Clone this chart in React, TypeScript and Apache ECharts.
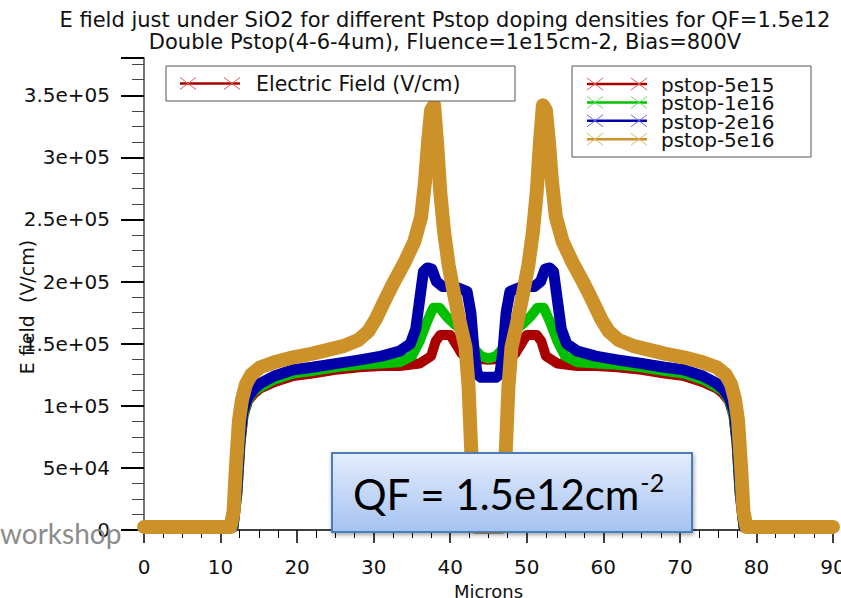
import React, { useEffect, useRef } from 'react';
import * as echarts from 'echarts';

const titleLine1 = 'E field just under SiO2 for different Pstop doping densities for QF=1.5e12';
const titleLine2 = 'Double Pstop(4-6-4um), Fluence=1e15cm-2, Bias=800V';
const xAxisTitle = 'Microns';
const yAxisTitle = 'E field  (V/cm)';
const boxLegendLabel = 'Electric Field (V/cm)';
const qfLabel = 'QF = 1.5e12cm';
const qfSup = '-2';
const watermark = 'workshop';

const seriesNames = ['pstop-5e15', 'pstop-1e16', 'pstop-2e16', 'pstop-5e16'];

// [micron, E field V/cm]
const pstop5e15: number[][] = [
  [0, 2500], [11.7, 2500], [12.2, 30000], [12.6, 70000], [13.0, 92000], [13.6, 104000], [14.4, 110000],
  [15.2, 114000], [17, 119000], [19.5, 124000], [22, 126000], [25, 129000], [28.2, 131000], [31, 132000],
  [33.4, 132000], [36, 134000], [37.5, 140000], [38.1, 152000], [38.7, 157000], [40.0, 157000],
  [40.7, 150000], [41.5, 142000], [43, 138000], [45, 137000],
  [47, 138000], [48.5, 142000], [49.3, 150000], [50, 157000], [51.3, 157000], [51.9, 152000],
  [52.5, 140000], [54, 134000], [56.6, 132000], [59, 132000], [61.8, 131000], [65, 129000], [68, 126000],
  [70.5, 124000], [73, 119000], [74.8, 114000], [75.6, 110000], [76.4, 104000], [77, 92000], [77.4, 70000],
  [77.8, 30000], [78.3, 2500], [90, 2500],
];

const pstop1e16: number[][] = [
  [0, 2500], [11.7, 2500], [12.2, 30000], [12.6, 70000], [13.0, 93000], [13.6, 105000], [14.4, 112000],
  [15.2, 115000], [17, 121000], [19.5, 126000], [22, 128000], [25, 131000], [28.2, 133000], [31, 134000],
  [33.4, 135000], [35, 140000], [36, 152000], [37, 168000], [37.8, 179000], [38.6, 179000], [39.5, 172000],
  [40.5, 166000], [41.5, 161000], [42.5, 153000], [43.3, 145000], [44, 140000], [45, 138000],
  [46, 140000], [46.7, 145000], [47.5, 153000], [48.5, 161000], [49.5, 166000], [50.5, 172000],
  [51.4, 179000], [52.2, 179000], [53, 168000], [54, 152000], [55, 140000], [56.6, 135000], [59, 134000],
  [61.8, 133000], [65, 131000], [68, 128000], [70.5, 126000], [73, 121000], [74.8, 115000], [75.6, 112000],
  [76.4, 105000], [77, 93000], [77.4, 70000], [77.8, 30000], [78.3, 2500], [90, 2500],
];

const pstop2e16: number[][] = [
  [0, 2500], [11.6, 2500], [12.1, 30000], [12.5, 70000], [12.9, 95000], [13.5, 106000], [14.3, 113000],
  [15.2, 118000], [17, 124000], [19.5, 129000], [22, 131000], [25, 134000], [28.2, 137000], [31, 140000],
  [33.4, 144000], [34.8, 150000], [35.5, 162000], [36.0, 185000], [36.5, 208000], [37.0, 211000],
  [37.6, 210000], [38.2, 200000], [39.0, 196000], [40.0, 196000], [41.0, 195000], [42.2, 192000],
  [42.7, 175000], [43.1, 145000], [43.5, 126000], [44.0, 123000], [46.0, 123000],
  [46.5, 126000], [46.9, 145000], [47.3, 175000], [47.8, 192000], [49.0, 195000], [50.0, 196000],
  [51.0, 196000], [51.8, 200000], [52.4, 210000], [53.0, 211000], [53.5, 208000], [54.0, 185000],
  [54.5, 162000], [55.2, 150000], [56.6, 144000], [59, 140000], [61.8, 137000], [65, 134000], [68, 131000],
  [70.5, 129000], [73, 124000], [74.8, 118000], [75.7, 113000], [76.5, 106000], [77.1, 95000],
  [77.5, 70000], [77.9, 30000], [78.4, 2500], [90, 2500],
];

const pstop5e16: number[][] = [
  [0, 2500], [11.3, 2500], [11.7, 15000], [12.0, 50000], [12.4, 88000], [12.8, 105000], [13.3, 117000],
  [14.0, 125000], [15.2, 131000], [17, 135000], [19.5, 139000], [22, 142000], [24, 145000], [26, 148000],
  [28, 153000], [29.3, 160000], [30.3, 170000], [31.3, 183000], [32.5, 198000], [34, 215000],
  [35.3, 232000], [36.2, 252000], [36.7, 280000], [37.1, 312000], [37.5, 338000], [37.9, 342000],
  [38.3, 310000], [38.7, 272000], [39.2, 240000], [39.8, 213000], [40.5, 190000], [41.3, 166000],
  [42.0, 147000], [42.4, 115000], [42.7, 70000], [43.0, 30000], [43.3, 2500],
  [46.7, 2500], [47.0, 30000], [47.3, 70000], [47.6, 115000], [48.0, 147000], [48.7, 166000],
  [49.5, 190000], [50.2, 213000], [50.8, 240000], [51.3, 272000], [51.7, 310000], [52.1, 342000],
  [52.5, 338000], [52.9, 312000], [53.3, 280000], [53.8, 252000], [54.7, 232000], [56, 215000],
  [57.5, 198000], [58.7, 183000], [59.7, 170000], [60.7, 160000], [62, 153000], [64, 148000],
  [66, 145000], [68, 142000], [70.5, 139000], [73, 135000], [74.8, 131000], [76, 125000], [76.7, 117000],
  [77.2, 105000], [77.6, 88000], [78, 50000], [78.3, 15000], [78.7, 2500], [90, 2500],
];

const seriesData = [pstop5e15, pstop1e16, pstop2e16, pstop5e16];

const X_MIN = 0;
const X_MAX = 90;
const X_STEP = 10;
const Y_MIN = 0;
const Y_MAX = 380000;
const Y_STEP = 50000;

const lineColors = ['#aa0000', '#00c000', '#0000aa', '#cc9229'];
const crossColors = ['#dd5a5a', '#66e066', '#6a6af0', '#e2b56a'];
const lineWidths = [10, 10, 11, 14];

const FONT = "'DejaVu Sans', Verdana, sans-serif";

function fmtY(v: number): string {
  if (v === 0) return '0';
  if (v % Y_STEP !== 0) return '';
  const e = Math.floor(Math.log10(v) + 1e-9);
  const m = v / Math.pow(10, e);
  return `${+m.toFixed(2)}e+${String(e).padStart(2, '0')}`;
}

function legendIcon(x0: number, y: number, lineColor: string, crossColor: string): any[] {
  const w = 60;
  const cw = 16;
  const ch = 6;
  const els: any[] = [
    { type: 'line', shape: { x1: x0, y1: y, x2: x0 + w, y2: y }, style: { stroke: lineColor, lineWidth: 2.5 }, z: 101 },
  ];
  [x0, x0 + w - cw].forEach((cx) => {
    els.push({ type: 'line', shape: { x1: cx, y1: y - ch, x2: cx + cw, y2: y + ch }, style: { stroke: crossColor, lineWidth: 1 }, z: 102 });
    els.push({ type: 'line', shape: { x1: cx, y1: y + ch, x2: cx + cw, y2: y - ch }, style: { stroke: crossColor, lineWidth: 1 }, z: 102 });
  });
  return els;
}

export default function App() {
  const ref = useRef<HTMLDivElement>(null);

  useEffect(() => {
    document.body.style.margin = '0';
    if (!ref.current) return;
    const chart = echarts.init(ref.current, undefined, { renderer: 'svg' });

    const graphics: any[] = [];
    // legend box 1
    graphics.push({ type: 'rect', shape: { x: 166, y: 66, width: 349, height: 35 }, style: { fill: '#fff', stroke: '#555', lineWidth: 1 }, z: 100 });
    graphics.push(...legendIcon(180, 83.5, lineColors[0], crossColors[0]));
    graphics.push({ type: 'text', x: 256, y: 84, style: { text: boxLegendLabel, font: `20.5px ${FONT}`, fill: '#111', verticalAlign: 'middle' }, z: 103 });
    // legend box 2
    graphics.push({ type: 'rect', shape: { x: 572, y: 66, width: 239, height: 91 }, style: { fill: '#fff', stroke: '#555', lineWidth: 1 }, z: 100 });
    seriesNames.forEach((name, i) => {
      const yy = 84 + i * 18.4;
      graphics.push(...legendIcon(587, yy, lineColors[i], crossColors[i]));
      graphics.push({ type: 'text', x: 661, y: yy + 1, style: { text: name, font: `20px ${FONT}`, lineHeight: 18, fill: '#111', verticalAlign: 'middle' }, z: 103 });
    });
    // QF box
    graphics.push({
      type: 'rect',
      shape: { x: 332, y: 453, width: 360, height: 79 },
      style: {
        fill: { type: 'linear', x: 0, y: 0, x2: 0, y2: 1, colorStops: [{ offset: 0, color: '#e4edfc' }, { offset: 1, color: '#a5c2f2' }] },
        stroke: '#4a7ebb', lineWidth: 2, shadowBlur: 4, shadowColor: 'rgba(0,0,0,0.35)', shadowOffsetX: 1, shadowOffsetY: 2,
      },
      z: 110,
    });
    graphics.push({
      type: 'text', x: 353, y: 494,
      style: {
        text: `{a|${qfLabel}}{b|${qfSup}}`,
        verticalAlign: 'middle',
        rich: {
          a: { fontFamily: 'Lato, sans-serif', fontSize: 42, fill: '#000', lineHeight: 50 },
          b: { fontFamily: 'Lato, sans-serif', fontSize: 25, fill: '#000', verticalAlign: 'top', lineHeight: 34 },
        },
      },
      z: 111,
    });
    // watermark
    graphics.push({ type: 'text', x: 0, y: 533, style: { text: watermark, font: `28px Lato, sans-serif`, fill: '#8c8c8c', verticalAlign: 'middle' }, z: 120 });
    // y axis title
    graphics.push({ type: 'text', x: 27, y: 307, rotation: Math.PI / 2, style: { text: yAxisTitle, font: `19px ${FONT}`, fill: '#111', align: 'center', verticalAlign: 'middle' }, z: 50 });

    chart.setOption({
      animation: false,
      backgroundColor: '#fff',
      title: {
        text: `${titleLine1}\n${titleLine2}`,
        left: 440,
        top: 4,
        textAlign: 'center',
        textStyle: { fontFamily: FONT, fontSize: 21, fontWeight: 'normal', color: '#111', lineHeight: 22 },
      },
      grid: { left: 144, right: 8, top: 58, bottom: 68, containLabel: false, outerBoundsMode: 'none' },
      xAxis: {
        type: 'value', min: X_MIN, max: X_MAX, interval: X_STEP,
        name: xAxisTitle, nameLocation: 'middle', nameGap: 47,
        nameTextStyle: { fontFamily: FONT, fontSize: 18, color: '#111', lineHeight: 20 },
        axisLine: { show: true, lineStyle: { color: '#000', width: 1.5 } },
        axisTick: { show: true, length: 13, lineStyle: { color: '#000', width: 1.5 } },
        minorTick: { show: true, splitNumber: 4, length: 8, lineStyle: { color: '#000', width: 1 } },
        splitLine: { show: false },
        axisLabel: { fontFamily: FONT, fontSize: 20, color: '#111', margin: 27 },
      },
      yAxis: {
        type: 'value', min: Y_MIN, max: Y_MAX, interval: Y_STEP,
        axisLine: { show: true, lineStyle: { color: '#444', width: 1.5 } },
        axisTick: { show: true, length: 23, lineStyle: { color: '#000', width: 2 } },
        minorTick: { show: true, splitNumber: 4, length: 12, lineStyle: { color: '#444', width: 1 } },
        splitLine: { show: false },
        axisLabel: { fontFamily: FONT, fontSize: 20, color: '#111', margin: 34, formatter: fmtY, showMaxLabel: false },
      },
      series: seriesNames.map((name, i) => ({
        type: 'line',
        name,
        data: seriesData[i],
        showSymbol: false,
        symbol: 'none',
        silent: true,
        z: 2 + i,
        lineStyle: { color: lineColors[i], width: lineWidths[i], cap: 'round', join: 'round' },
        itemStyle: { color: lineColors[i] },
      })),
      graphic: graphics,
    });

    return () => chart.dispose();
  }, []);

  return <div ref={ref} style={{ width: 841, height: 598 }} />;
}
